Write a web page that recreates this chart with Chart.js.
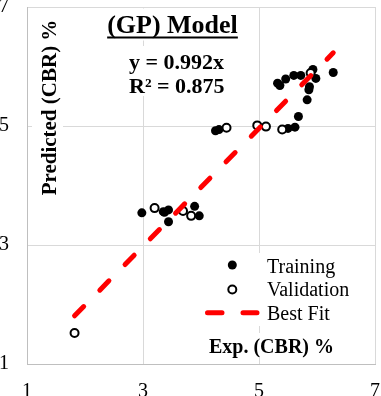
<!DOCTYPE html>
<html><head><meta charset="utf-8">
<script src="https://cdn.jsdelivr.net/npm/chart.js@4.4.0/dist/chart.umd.min.js"></script>
<style>html,body{margin:0;padding:0;background:#fff;overflow:hidden}canvas{display:block}</style>
</head><body>
<canvas id="c" width="381" height="396"></canvas>
<script>
// ---- data ----
const trainingX = [2.98, 3.35, 3.37, 3.44, 3.44, 3.89, 3.97, 4.25, 4.31, 5.50, 5.62, 5.68, 5.32, 5.36, 5.46, 5.60, 5.72, 5.93, 5.98, 6.28, 5.87, 5.86, 5.83];
const trainingY = [3.54, 3.56, 3.55, 3.59, 3.39, 3.65, 3.49, 4.92, 4.94, 4.96, 4.98, 5.16, 5.72, 5.68, 5.79, 5.85, 5.85, 5.95, 5.80, 5.90, 5.66, 5.61, 5.44];
const validationX = [1.82, 3.20, 3.69, 3.83, 4.44, 4.97, 5.12, 5.40, 5.89];
const validationY = [1.52, 3.62, 3.57, 3.49, 4.97, 5.01, 4.99, 4.94, 5.89];
const fitX = [1.82, 6.28];
const fitY = [1.81, 6.23];
const xTicks = [1, 3, 5, 7];
const yTicks = [1, 3, 5, 7];

const pts = (xs, ys) => xs.map((x, i) => ({x: x, y: ys[i]}));
const SERIF = '"Liberation Serif", "Times New Roman", serif';

const annotations = {
  id: 'annotations',
  afterDraw(chart) {
    const ctx = chart.ctx;
    ctx.save();
    // white text boxes (hide gridlines as in the reference)
    ctx.fillStyle = '#fff';
    ctx.fillRect(100, 8.5, 145, 32);
    ctx.fillRect(120, 46, 112, 50);
    ctx.fillRect(32, 10, 31, 190);
    ctx.fillRect(200, 253, 160, 73);
    ctx.fillRect(205, 333, 135, 25);

    ctx.fillStyle = '#000';
    // title with underline
    ctx.font = 'bold 26px ' + SERIF;
    ctx.textAlign = 'center';
    ctx.textBaseline = 'alphabetic';
    const title = '(GP) Model';
    const tw = ctx.measureText(title).width;
    ctx.fillText(title, 172.5, 33);
    ctx.fillRect(172.5 - tw / 2, 36.5, tw, 2);

    // equation
    ctx.font = 'bold 22px ' + SERIF;
    ctx.textAlign = 'left';
    ctx.fillText('y = 0.992x', 129, 69);
    ctx.fillText('R² = 0.875', 129, 93);

    // y axis title (inside plot)
    ctx.save();
    ctx.translate(56, 107.5);
    ctx.rotate(-Math.PI / 2);
    ctx.font = 'bold 21px ' + SERIF;
    ctx.textAlign = 'center';
    ctx.fillText('Predicted (CBR) %', 0, 0);
    ctx.restore();

    // x axis title (inside plot)
    ctx.font = 'bold 20px ' + SERIF;
    ctx.textAlign = 'left';
    ctx.fillText('Exp. (CBR) %', 209, 353);

    // legend
    ctx.font = '20px ' + SERIF;
    ctx.fillText('Training', 267, 272.5);
    ctx.fillText('Validation', 267, 296);
    ctx.fillText('Best Fit', 267, 319.5);
    ctx.beginPath();
    ctx.arc(232.3, 265, 4.5, 0, Math.PI * 2);
    ctx.fill();
    ctx.beginPath();
    ctx.arc(232.3, 289.5, 4, 0, Math.PI * 2);
    ctx.fillStyle = '#fff';
    ctx.fill();
    ctx.lineWidth = 2;
    ctx.strokeStyle = '#000';
    ctx.stroke();
    ctx.strokeStyle = '#ff0000';
    ctx.lineWidth = 5;
    ctx.lineCap = 'round';
    ctx.beginPath();
    ctx.moveTo(207.5, 312.7); ctx.lineTo(222, 312.7);
    ctx.moveTo(243, 312.7); ctx.lineTo(257, 312.7);
    ctx.stroke();
    ctx.restore();
  }
};

const noPad = s => { s.paddingLeft = 0; s.paddingRight = 0; s.paddingTop = 0; s.paddingBottom = 0; };

new Chart(document.getElementById('c'), {
  type: 'scatter',
  data: {
    datasets: [
      {
        label: 'Best Fit', type: 'line', data: pts(fitX, fitY), order: 0,
        borderColor: '#ff0000', borderWidth: 5, borderDash: [13, 23], borderCapStyle: 'round',
        pointRadius: 0, fill: false, tension: 0
      },
      {
        label: 'Validation', data: pts(validationX, validationY), order: 1,
        pointRadius: 4, pointBackgroundColor: '#fff', pointBorderColor: '#000', pointBorderWidth: 2,
        backgroundColor: '#fff', borderColor: '#000'
      },
      {
        label: 'Training', data: pts(trainingX, trainingY), order: 2,
        pointRadius: 4.5, pointBackgroundColor: '#000', pointBorderWidth: 0,
        backgroundColor: '#000', borderColor: '#000'
      }
    ]
  },
  options: {
    responsive: false,
    animation: false,
    devicePixelRatio: 1,
    layout: {padding: {top: 7, right: 5, left: 0, bottom: 0}},
    plugins: {legend: {display: false}, tooltip: {enabled: false}, title: {display: false}},
    scales: {
      x: {
        type: 'linear', min: 1, max: 7,
        afterBuildTicks: s => { s.ticks = xTicks.map(v => ({value: v})); },
        afterFit: s => { s.height = 32; noPad(s); },
        grid: {color: '#d9d9d9', lineWidth: 1, drawTicks: false},
        border: {color: '#bfbfbf', width: 1},
        ticks: {color: '#000', font: {family: SERIF, size: 20}, padding: 16, maxRotation: 0}
      },
      y: {
        type: 'linear', min: 1, max: 7,
        afterBuildTicks: s => { s.ticks = yTicks.map(v => ({value: v})); },
        afterFit: s => { s.width = 27; noPad(s); },
        grid: {color: '#d9d9d9', lineWidth: 1, drawTicks: false},
        border: {color: '#bfbfbf', width: 1},
        ticks: {color: '#000', font: {family: SERIF, size: 20}, padding: 18}
      }
    }
  },
  plugins: [annotations]
});
</script>
</body></html>
